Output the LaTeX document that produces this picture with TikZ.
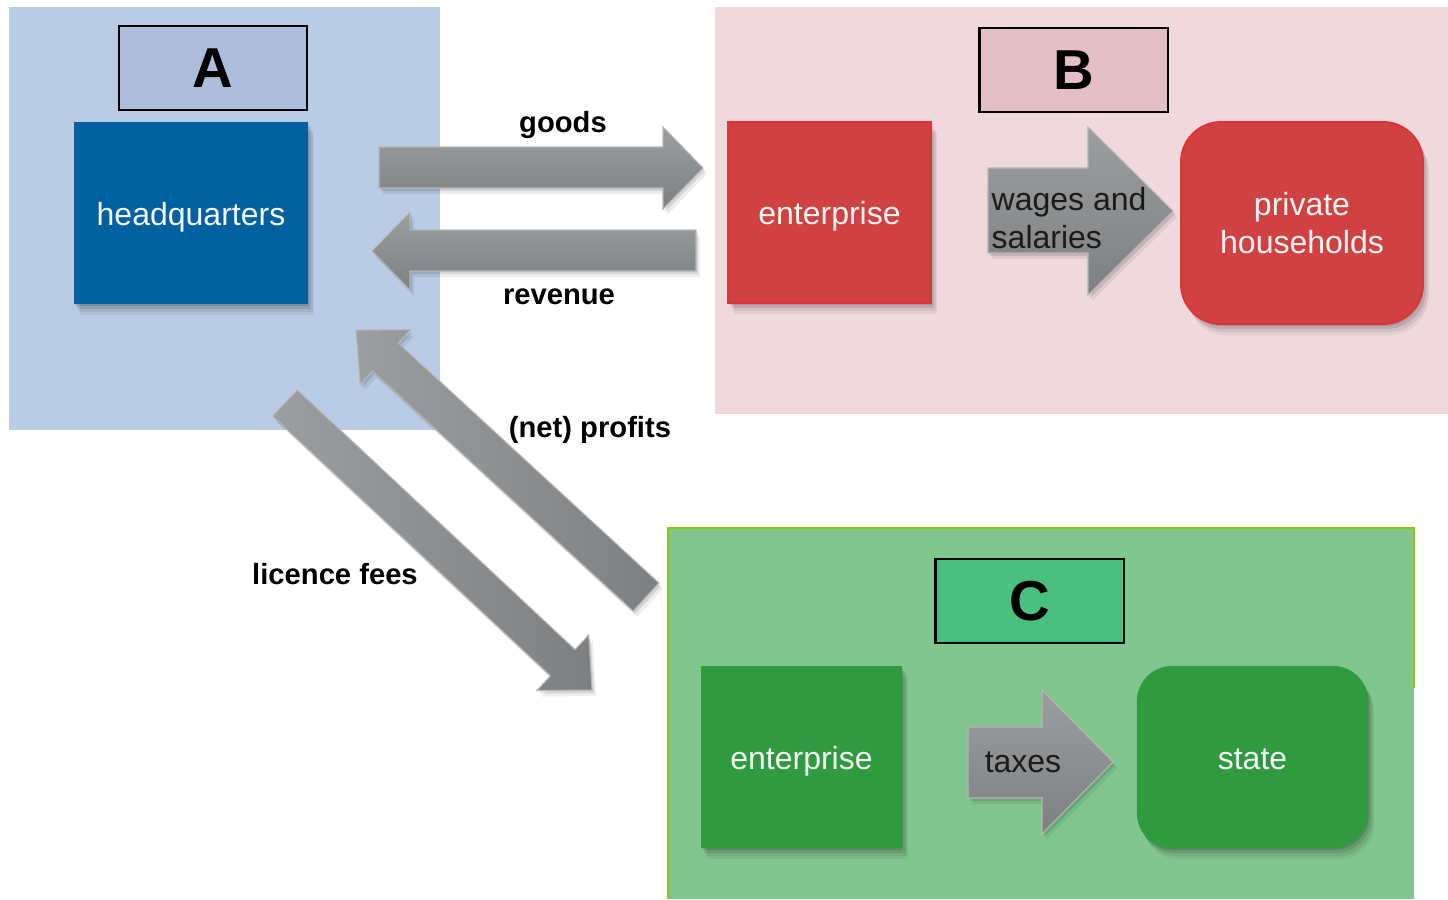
\documentclass[tikz,border=0pt]{standalone}
\usepackage{fontspec}
\setmainfont{Liberation Sans}
\usetikzlibrary{shadows}
\definecolor{bgA}{HTML}{B9CBE5}
\definecolor{labA}{HTML}{AEBDDB}
\definecolor{hqblue}{HTML}{0060A0}
\definecolor{bgB}{HTML}{F0D9DD}
\definecolor{labB}{HTML}{E5BFC6}
\definecolor{boxred}{HTML}{D04141}
\definecolor{edgered}{HTML}{E2303A}
\definecolor{bgC}{HTML}{82C68F}
\definecolor{edgeC}{HTML}{8DC21F}
\definecolor{labC}{HTML}{4BBF80}
\definecolor{boxgreen}{HTML}{2F9A40}
\definecolor{arrtop}{HTML}{9C9E9F}
\definecolor{arrbot}{HTML}{7E7F80}
\definecolor{arredge}{HTML}{B4B6B7}
\definecolor{txtdark}{HTML}{1A1A1A}
\begin{document}
\begin{tikzpicture}[x=0.01cm,y=-0.01cm,
  shad/.style={
    drop shadow={shadow xshift=0.01cm, shadow yshift=-0.02cm, opacity=0.12, fill=black},
    drop shadow={shadow xshift=0.03cm, shadow yshift=-0.05cm, opacity=0.10, fill=black},
    drop shadow={shadow xshift=0.05cm, shadow yshift=-0.08cm, opacity=0.07, fill=black},
    drop shadow={shadow xshift=0.06cm, shadow yshift=-0.11cm, opacity=0.05, fill=black}},
  box/.style={rectangle, inner sep=0pt, text=white!96!black,
    font=\fontsize{9.1}{10.8}\selectfont, shad},
  oneline/.style={text height=8pt, text depth=1.1pt},
  letterbox/.style={rectangle, inner sep=0pt, draw=black, line width=0.6pt,
    minimum width=1.88cm, minimum height=0.84cm, font=\bfseries\fontsize{16}{18}\selectfont},
  flowlabel/.style={font=\bfseries\fontsize{8.3}{10}\selectfont, text=black, inner sep=0pt},
  ashad/.style={
    drop shadow={shadow xshift=0.02cm, shadow yshift=-0.03cm, opacity=0.10, fill=black},
    drop shadow={shadow xshift=0.04cm, shadow yshift=-0.06cm, opacity=0.07, fill=black}},
  blockarrow/.style={top color=arrtop, bottom color=arrbot, draw=arredge, line width=0.3pt, ashad},
  diagarrow/.style={left color=arrtop, right color=arrbot, draw=arredge, line width=0.3pt, ashad},
  arrowtext/.style={font=\fontsize{9.1}{10.8}\selectfont, text=txtdark, inner sep=0pt, align=left}
]
\useasboundingbox (0,0) rectangle (1448,899);
\fill[white] (0,0) rectangle (1448,899);

% regions
\fill[bgA] (9,7) rectangle (440,430);
\fill[bgB] (715,7) rectangle (1448,414);
\fill[bgC] (668,528) rectangle (1414,899);
\draw[edgeC, line width=0.6pt] (668,899) -- (668,528) -- (1414,528) -- (1414,688);

% region A
\node[letterbox, fill=labA] (labA) at (213,68) {A};
\node[box, oneline, fill=hqblue, minimum width=2.34cm, minimum height=1.82cm] (hq) at (191,213) {headquarters};

% region B
\node[letterbox, fill=labB] (labB) at (1073.5,70) {B};
\node[box, oneline, fill=boxred, draw=edgered, line width=0.5pt, minimum width=2.03cm, minimum height=1.81cm] (entB) at (829.5,212.5) {enterprise};
\node[box, align=center, fill=boxred, draw=edgered, line width=0.5pt, rounded corners=0.4cm, minimum width=2.42cm, minimum height=2.02cm] (hh) at (1302,223) {private\\households};

% region C
\node[letterbox, fill=labC] (labC) at (1029.5,601) {C};
\node[box, oneline, fill=boxgreen, minimum width=2.01cm, minimum height=1.82cm] (entC) at (801.5,757) {enterprise};
\node[box, oneline, fill=boxgreen, rounded corners=0.35cm, minimum width=2.31cm, minimum height=1.82cm] (state) at (1252.5,757) {state};

% goods arrow
\path[blockarrow] (379,147) -- (663,147) -- (663,127) -- (703,168) -- (663,209) -- (663,188) -- (379,188) -- cycle;
% revenue arrow
\path[blockarrow] (696,230) -- (410,230) -- (410,212) -- (372,251) -- (410,290) -- (410,271) -- (696,271) -- cycle;
% wages arrow
\path[blockarrow] (988,168) -- (1088,168) -- (1088,127) -- (1173,211) -- (1088,295) -- (1088,253) -- (988,253) -- cycle;
% taxes arrow
\path[blockarrow] (968,727) -- (1042,727) -- (1042,690) -- (1113,762) -- (1042,834) -- (1042,798) -- (968,798) -- cycle;
% (net) profits arrow
\path[diagarrow] (356,330) -- (410.5,329.9) -- (398.3,343.1) -- (658.9,583.0) -- (633.1,611.0) -- (372.5,371.1) -- (360.3,384.3) -- cycle;
% licence fees arrow
\path[diagarrow] (592,690) -- (536.9,690.5) -- (550.5,675.8) -- (272.7,416.1) -- (297.3,389.9) -- (575.1,649.6) -- (588.7,634.9) -- cycle;

% labels
\node[flowlabel] (lgoods) at (563,125) {goods};
\node[flowlabel] (lrev) at (559,297) {revenue};
\node[flowlabel] (lprof) at (590,430) {(net) profits};
\node[flowlabel] (llic) at (335,574) {licence fees};
\node[arrowtext, anchor=west] (lwages) at (991,218) {wages and\\salaries};
\node[arrowtext] (ltax) at (1023,762) {taxes};
\end{tikzpicture}
\end{document}
